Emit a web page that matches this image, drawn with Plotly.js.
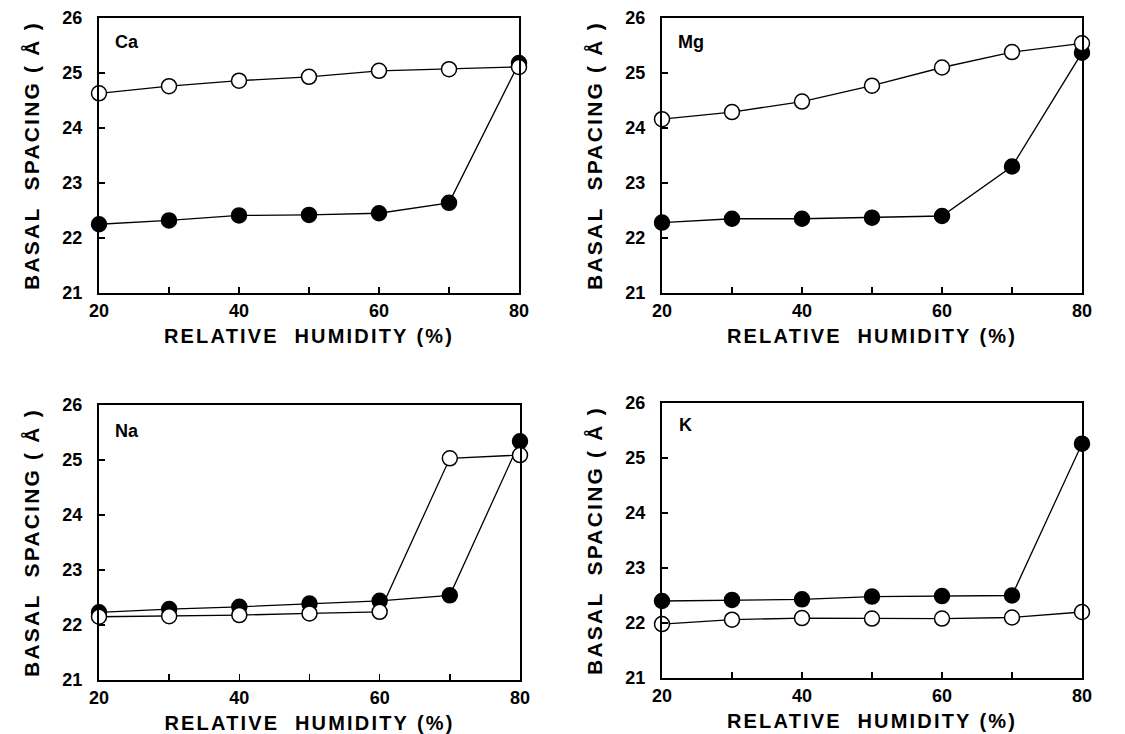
<!DOCTYPE html>
<html><head><meta charset="utf-8">
<script src="https://cdn.plot.ly/plotly-3.0.1.min.js"></script>
<style>html,body{margin:0;padding:0;background:#fff}#chart{width:1125px;height:734px}</style>
</head><body><div id="chart"></div>
<script>
// Data
const humidity = [20, 30, 40, 50, 60, 70, 80];
const panelNames = ['Ca', 'Mg', 'Na', 'K'];
const caFilled = [22.25, 22.32, 22.41, 22.42, 22.45, 22.64, 25.18];
const caOpen   = [24.63, 24.76, 24.86, 24.93, 25.04, 25.07, 25.11];
const mgFilled = [22.28, 22.35, 22.35, 22.37, 22.40, 23.30, 25.37];
const mgOpen   = [24.16, 24.29, 24.48, 24.77, 25.10, 25.38, 25.54];
const naFilled = [22.23, 22.29, 22.33, 22.39, 22.44, 22.54, 25.34];
const naOpen   = [22.15, 22.16, 22.18, 22.21, 22.24, 25.03, 25.09];
const kFilled  = [22.40, 22.42, 22.43, 22.48, 22.49, 22.50, 25.26];
const kOpen    = [21.98, 22.06, 22.09, 22.08, 22.08, 22.10, 22.20];
const xTickVals = [20, 30, 40, 50, 60, 70, 80];
const xTickText = ['20', '', '40', '', '60', '', '80'];
const yTickVals = [21, 22, 23, 24, 25, 26];
const xTitle = 'RELATIVE&nbsp;&nbsp;HUMIDITY&nbsp;(%)';
const yTitle = 'BASAL&nbsp;&nbsp;SPACING&nbsp;(&nbsp;Å&nbsp;)';

const filledSets = [caFilled, mgFilled, naFilled, kFilled];
const openSets = [caOpen, mgOpen, naOpen, kOpen];

const FONT = 'Liberation Sans, Arial, Helvetica, sans-serif';
const W = 1125, H = 734;
// plot boxes in pixels: [left, right, top, bottom]
const boxes = [[99, 519, 18, 293], [662, 1082, 18, 293], [99, 520, 405, 680], [662, 1082, 403, 678]];
const labelPos = [[22.0, 25.56], [22.0, 25.56], [22.0, 25.52], [22.2, 25.6]];

const traces = [];
const layout = {
  width: W, height: H,
  margin: {l: 0, r: 0, t: 0, b: 0},
  paper_bgcolor: '#fff', plot_bgcolor: '#fff',
  showlegend: false,
  font: {family: FONT, color: '#000'},
  annotations: []
};

for (let i = 0; i < 4; i++) {
  const n = i + 1;
  const xa = 'x' + (n === 1 ? '' : n), ya = 'y' + (n === 1 ? '' : n);
  const b = boxes[i];
  traces.push({
    x: humidity, y: filledSets[i], xaxis: xa, yaxis: ya, type: 'scatter', mode: 'lines+markers',
    name: panelNames[i] + ' (filled)', cliponaxis: false,
    line: {color: '#000', width: 1.3},
    marker: {symbol: 'circle', size: 15, color: '#000', line: {color: '#000', width: 1.5}}
  });
  traces.push({
    x: humidity, y: openSets[i], xaxis: xa, yaxis: ya, type: 'scatter', mode: 'lines+markers',
    name: panelNames[i] + ' (open)', cliponaxis: false,
    line: {color: '#000', width: 1.3},
    marker: {symbol: 'circle', size: 15, color: '#fff', line: {color: '#000', width: 1.5}}
  });
  const axCommon = {
    showline: true, mirror: true, linecolor: '#000', linewidth: 2,
    showgrid: false, zeroline: false, ticks: 'inside', ticklen: 6, tickwidth: 1.5, tickcolor: '#000',
    automargin: false, fixedrange: true
  };
  layout['xaxis' + (n === 1 ? '' : n)] = Object.assign({}, axCommon, {
    domain: [b[0] / W, b[1] / W], anchor: ya, range: [20, 80],
    tickmode: 'array', tickvals: xTickVals, ticktext: xTickText,
    tickfont: {family: FONT, size: 18, weight: 'bold', color: '#000'},
    ticklabelstandoff: 0,
    title: {text: xTitle, font: {family: FONT, size: 20, weight: 'bold', color: '#000'}, standoff: 9}
  });
  layout['yaxis' + (n === 1 ? '' : n)] = Object.assign({}, axCommon, {
    domain: [1 - b[3] / H, 1 - b[2] / H], anchor: xa, range: [21, 26],
    tickmode: 'array', tickvals: yTickVals,
    tickfont: {family: FONT, size: 18, weight: 'bold', color: '#000'},
    ticklabelstandoff: 11,
    title: {text: yTitle, font: {family: FONT, size: 21, weight: 'bold', color: '#000'}, standoff: 17}
  });
  layout.annotations.push({
    text: panelNames[i], xref: xa, yref: ya, x: labelPos[i][0], y: labelPos[i][1],
    xanchor: 'left', yanchor: 'middle', showarrow: false,
    font: {family: FONT, size: 18, weight: 'bold', color: '#000'}
  });
}

Plotly.newPlot('chart', traces, layout, {displayModeBar: false, staticPlot: true}).then(function (gd) {
  // widen the tracking of the axis titles, as in the original figure
  gd.querySelectorAll('text').forEach(function (t) {
    const c = t.getAttribute('class') || '';
    if (/^[xy]\d*title$/.test(c)) t.style.letterSpacing = '2.2px';
  });
});
</script>
</body></html>
